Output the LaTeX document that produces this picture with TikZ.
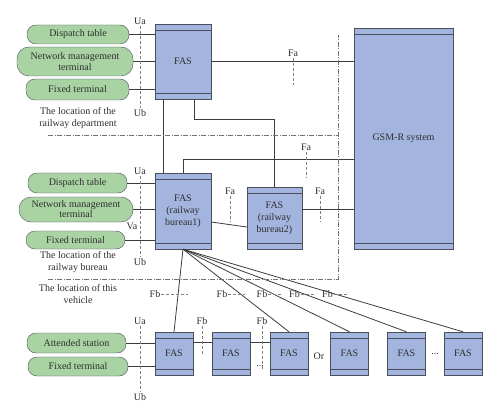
\documentclass[tikz,border=0pt]{standalone}
\usepackage{fontspec}
\setmainfont{Liberation Serif}
\usepackage{tikz}
\usetikzlibrary{
  positioning,
  calc
}
\definecolor{fascolor}{HTML}{A3B5DF}
\definecolor{termcolor}{HTML}{A9D3A3}
\definecolor{edgecolor}{HTML}{4A4F5C}
\definecolor{linkcolor}{HTML}{3C3C3C}
\definecolor{txtcolor}{HTML}{2E2E2E}

\begin{document}
\begin{tikzpicture}[
  x=1pt, y=-1pt,
  fas/.style={
    draw=edgecolor, fill=fascolor, inner sep=1pt,
    align=center, text=txtcolor,
    path picture={
      \draw[edgecolor, line width=0.8pt]
        ([yshift=-6pt]path picture bounding box.north west) --
        ([yshift=-6pt]path picture bounding box.north east);
      \draw[edgecolor, line width=0.8pt]
        ([yshift=6pt]path picture bounding box.south west) --
        ([yshift=6pt]path picture bounding box.south east);
    }
  },
  smallfas/.style={fas, minimum width=38pt, minimum height=43pt},
  term/.style={
    draw=edgecolor, fill=termcolor, rounded corners=9pt,
    inner sep=1pt, align=center, text=txtcolor
  },
  link/.style={linkcolor, line width=0.8pt},
  iface/.style={gray, line width=0.7pt, dash pattern=on 3pt off 2pt},
  zone/.style={gray!90!black, line width=0.7pt, dash pattern=on 5pt off 1.5pt on 1pt off 1.5pt},
  lbl/.style={text=txtcolor, inner sep=1pt, align=center}
]
  \useasboundingbox (0,0) rectangle (500,414);

  % ── FAS nodes and GSM-R ──
  \node[fas, minimum width=56pt, minimum height=75pt] (fas0) at (183,61.5) {FAS};
  \node[fas, minimum width=56pt, minimum height=76pt] (fas1) at (183,211)
    {FAS\\(railway\\bureau1)};
  \node[fas, minimum width=55pt, minimum height=62pt] (fas2) at (274.5,218)
    {FAS\\(railway\\bureau2)};
  \node[fas, minimum width=99pt, minimum height=221pt] (gsmr) at (403.5,138.5) {GSM-R system};

  % ── Vehicle FAS row ──
  \foreach \x/\n in {174/b1, 231/b2, 289/b3, 349.5/b4, 406.5/b5, 463/b6}
    \node[smallfas] (\n) at (\x,353.5) {FAS};
  \node[lbl] (or) at (319,356) {Or};
  \node[lbl] (dots1) at (260,366) {...};
  \node[lbl] (dots2) at (435,354) {...};

  % ── Terminals: railway department ──
  \node[term, minimum width=102pt, minimum height=19pt] (disp0) at (78,34.5) {Dispatch table};
  \node[term, rounded corners=12pt, minimum width=116pt, minimum height=29pt] (net0) at (75,61.5)
    {Network management\\[-1pt]terminal};
  \node[term, minimum width=103pt, minimum height=21pt] (fix0) at (77.5,89.5) {Fixed terminal};
  \node[lbl] (loc0) at (78,118) {The location of the\\railway department};

  % ── Terminals: railway bureau ──
  \node[term, minimum width=99pt, minimum height=20pt] (disp1) at (77.5,183) {Dispatch table};
  \node[term, rounded corners=12pt, minimum width=114pt, minimum height=25pt] (net1) at (76,209.5)
    {Network management\\[-2pt]terminal};
  \node[term, minimum width=99pt, minimum height=18pt] (fix1) at (75.5,240) {Fixed terminal};
  \node[lbl] (loc1) at (78,262) {The location of the\\railway bureau};

  % ── Terminals: vehicle ──
  \node[lbl] (loc2) at (78,294) {The location of this\\vehicle};
  \node[term, minimum width=99pt, minimum height=20pt] (att2) at (76.5,343) {Attended station};
  \node[term, minimum width=100pt, minimum height=19pt] (fix2) at (78,366.5) {Fixed terminal};

  % ── Terminal links ──
  \foreach \t in {disp0, net0, fix0}
    \draw[link] (\t.east) -- (\t.east -| fas0.west);
  \foreach \t in {disp1, net1, fix1}
    \draw[link] (\t.east) -- (\t.east -| fas1.west);
  \foreach \t in {att2, fix2}
    \draw[link] (\t.east) -- (\t.east -| b1.west);

  % ── FAS links ──
  \draw[link] (fas0.east) -- (fas0.east -| gsmr.west);
  \draw[link] ([xshift=-20pt]fas0.south) -- ([xshift=-20pt]fas1.north);
  \draw[link] ([xshift=11pt]fas0.south) -- ++(0,20) -| (fas2.north);
  \draw[link] (fas1.north) -- ++(0,-13) coordinate (t1) -- (t1 -| gsmr.west);
  \draw[link] ([yshift=-11pt]fas1.east) -- ([yshift=-9pt]fas2.west);
  \draw[link] ([yshift=9pt]fas2.east) -- ([yshift=9pt]fas2.east -| gsmr.west);
  \foreach \n in {b1, b3, b4, b5, b6}
    \draw[link] (fas1.south) -- (\n.north);
  \draw[link] ([yshift=11pt]b1.east) -- ([yshift=11pt]b2.west);
  \draw[link] ([yshift=11pt]b2.east) -- ([yshift=11pt]b3.west);

  % ── Interfaces U / V ──
  \node[lbl] (ua0) at (140,21) {Ua};
  \node[lbl] (ub0) at (140,113) {Ub};
  \draw[iface] (ua0.south) -- (ub0.north);
  \node[lbl] (ua1) at (140,171) {Ua};
  \node[lbl] (ub1) at (140,262) {Ub};
  \draw[iface] (ua1.south) -- (ub1.north);
  \node[lbl] (va1) at (132,226) {Va};
  \node[lbl] (ua2) at (140,321) {Ua};
  \node[lbl] (ub2) at (140,397) {Ub};
  \draw[iface] (ua2.south) -- (ub2.north);

  % ── Interfaces Fa ──
  \foreach \x/\y/\l [count=\i] in {293/53/27, 306/147/26, 230/191/26, 320/191/26} {
    \node[lbl] (fa\i) at (\x,\y) {Fa};
    \draw[iface] (fa\i.south) -- ++(0,\l);
  }

  % ── Interfaces Fb ──
  \node[lbl] (fbv1) at (202,321) {Fb};
  \draw[iface] (fbv1.south) -- ++(0,28);
  \node[lbl] (fbv2) at (262,321) {Fb};
  \draw[iface] (fbv2.south) -- ++(0,43);
  \foreach \x/\l [count=\i] in {155/27, 222/17, 262/15, 294.5/14, 327.5/15} {
    \node[lbl] (fbh\i) at (\x,294) {Fb};
    \draw[iface] (fbh\i.east) -- ++(\l,0);
  }

  % ── Location borders ──
  \draw[zone] (48,135) -- (338,135);
  \draw[zone] (48,279) -- (338,279) -- (338,35);

\end{tikzpicture}
\end{document}
